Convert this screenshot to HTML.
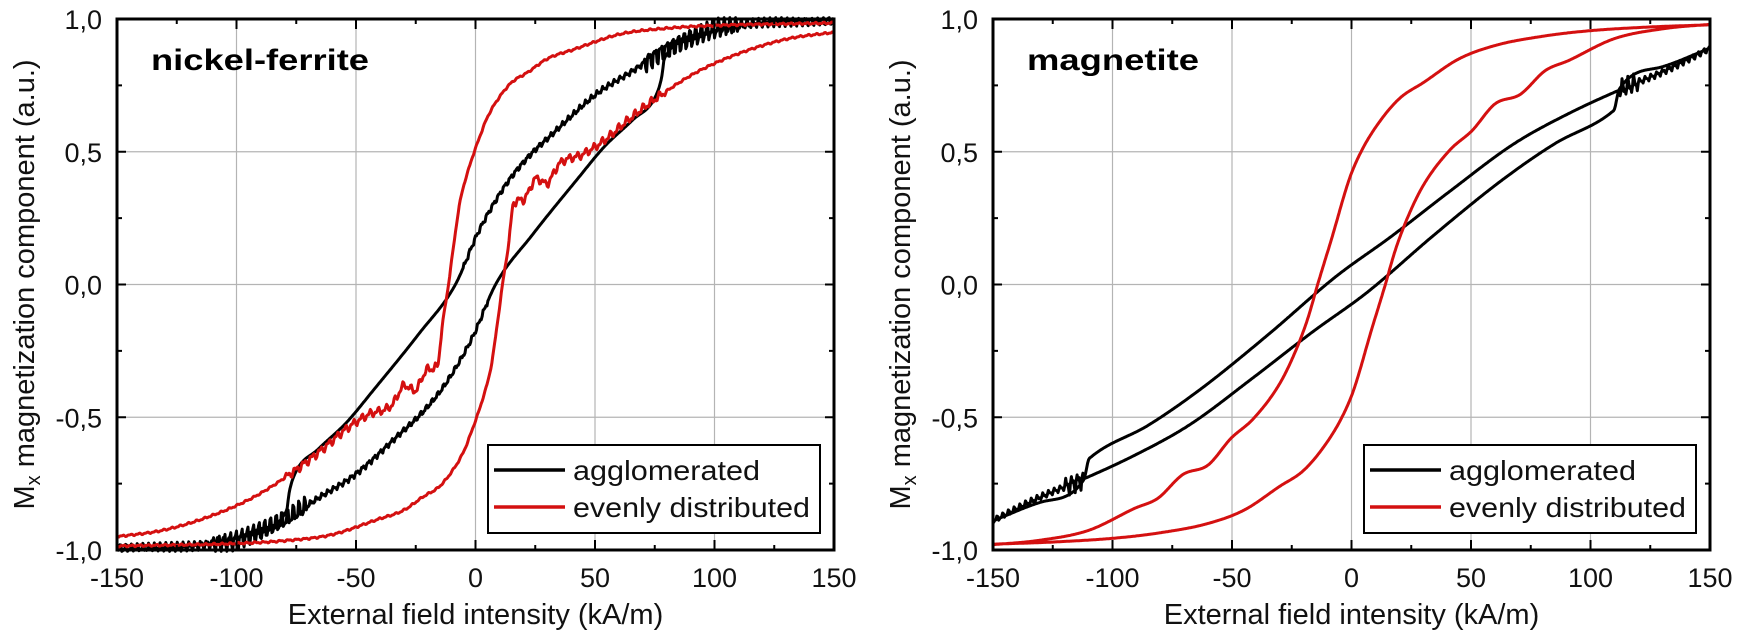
<!DOCTYPE html>
<html><head><meta charset="utf-8"><style>
html,body{margin:0;padding:0;background:#fff;}
svg{display:block;font-family:"Liberation Sans",Arial,sans-serif;}
</style></head><body>
<svg id="s" width="1741" height="642" viewBox="0 0 1741 642" xmlns="http://www.w3.org/2000/svg">
<rect width="1741" height="642" fill="#fff"/>
<g id="g"></g>
</svg>
<script>
const NS="http://www.w3.org/2000/svg";
const G=document.getElementById('g');
function el(t,a,txt){const e=document.createElementNS(NS,t);for(const k in a)e.setAttribute(k,a[k]);if(txt!==undefined)e.textContent=txt;G.appendChild(e);return e;}
function mk(p){ // monotone cubic (Fritsch-Carlson)
  const n=p.length,d=[],m=[];
  for(let i=0;i<n-1;i++)d.push((p[i+1][1]-p[i][1])/(p[i+1][0]-p[i][0]));
  m[0]=d[0];m[n-1]=d[n-2];
  for(let i=1;i<n-1;i++){m[i]=(d[i-1]*d[i]<=0)?0:(d[i-1]+d[i])/2;}
  for(let i=0;i<n-1;i++){if(d[i]===0){m[i]=0;m[i+1]=0;continue;}
    const a=m[i]/d[i],b=m[i+1]/d[i],s=a*a+b*b;if(s>9){const t=3/Math.sqrt(s);m[i]=t*a*d[i];m[i+1]=t*b*d[i];}}
  return function(H){
    if(H<=p[0][0])return p[0][1];if(H>=p[n-1][0])return p[n-1][1];
    let i=0;while(H>p[i+1][0])i++;
    const h=p[i+1][0]-p[i][0],t=(H-p[i][0])/h,t2=t*t,t3=t2*t;
    return (2*t3-3*t2+1)*p[i][1]+(t3-2*t2+t)*h*m[i]+(-2*t3+3*t2)*p[i+1][1]+(t3-t2)*h*m[i+1];
  };
}
function noise(H,seed){return Math.sin(H*2.6+seed)*0.6+Math.sin(H*5.3+seed*2.1)*0.4;}
function plot(x0,label,series){
  const y0=19,W=717,Hh=531;
  const X=h=>x0+(h+150)*W/300, Y=m=>y0+(1-m)*Hh/2;
  for(let h=-100;h<=100;h+=50)el('line',{x1:X(h),x2:X(h),y1:y0,y2:y0+Hh,stroke:'#b4b4b4','stroke-width':1.2});
  for(let m=-0.5;m<=0.5;m+=0.5)el('line',{x1:x0,x2:x0+W,y1:Y(m),y2:Y(m),stroke:'#b4b4b4','stroke-width':1.2});
  for(const s of series){
    const f=mk(s.pts);
    let up=[],lo=[];
    for(let h=150;h>=-150;h-=0.4){up.push([h,f(h)+s.nz(h)]);}
    for(let h=-150;h<=150;h+=0.4){lo.push([h,-f(-h)-s.nz(-h)]);}
    let d='';
    up.forEach((p,i)=>d+=(i?'L':'M')+X(p[0]).toFixed(1)+' '+Y(Math.max(-1.005,Math.min(1.005,p[1]))).toFixed(1));
    lo.forEach((p,i)=>d+=(i?'L':'M')+X(p[0]).toFixed(1)+' '+Y(Math.max(-1.005,Math.min(1.005,p[1]))).toFixed(1));
    el('path',{d:d,fill:'none',stroke:s.c,'stroke-width':3,'stroke-linejoin':'round'});
  }
  for(let h=-150;h<=150;h+=25){const L=(h%50===0)?10:5;
    el('line',{x1:X(h),x2:X(h),y1:y0+Hh,y2:y0+Hh-L,stroke:'#000','stroke-width':2});
    el('line',{x1:X(h),x2:X(h),y1:y0,y2:y0+L,stroke:'#000','stroke-width':2});}
  for(let m=-1;m<=1.001;m+=0.25){const L=(Math.abs(m*2-Math.round(m*2))<0.01)?9:5;
    el('line',{x1:x0,x2:x0+L,y1:Y(m),y2:Y(m),stroke:'#000','stroke-width':2});
    el('line',{x1:x0+W,x2:x0+W-L,y1:Y(m),y2:Y(m),stroke:'#000','stroke-width':2});}
  el('rect',{x:x0,y:y0,width:W,height:Hh,fill:'none',stroke:'#000','stroke-width':3});
  [-150,-100,-50,0,50,100,150].forEach(h=>el('text',{x:X(h),y:587,'font-size':27,'text-anchor':'middle',fill:'#111'},String(h)));
  [[1,'1,0'],[0.5,'0,5'],[0,'0,0'],[-0.5,'-0,5'],[-1,'-1,0']].forEach(a=>el('text',{x:x0-15,y:Y(a[0])+10,'font-size':27,'text-anchor':'end',fill:'#111'},a[1]));
  el('text',{x:X(0),y:624,'font-size':29,'text-anchor':'middle',fill:'#111'},'External field intensity (kA/m)');
  const t=el('text',{transform:`translate(${x0-83},${y0+Hh/2}) rotate(-90)`,'font-size':29,'text-anchor':'middle',fill:'#111'});
  const a=document.createElementNS(NS,'tspan');a.textContent='M';t.appendChild(a);
  const b=document.createElementNS(NS,'tspan');b.textContent='x';b.setAttribute('font-size',20);b.setAttribute('dy',6);t.appendChild(b);
  const c=document.createElementNS(NS,'tspan');c.textContent=' magnetization component (a.u.)';c.setAttribute('dy',-6);t.appendChild(c);
  el('text',{x:x0+34,y:70,'font-size':30,'font-weight':'bold',fill:'#000',textLength:label[1],lengthAdjust:'spacingAndGlyphs'},label[0]);
  const lx=x0+371;
  el('rect',{x:lx,y:445,width:332,height:88,fill:'#fff',stroke:'#000','stroke-width':2});
  el('line',{x1:lx+6,x2:lx+77,y1:470,y2:470,stroke:'#000','stroke-width':3.5});
  el('line',{x1:lx+6,x2:lx+77,y1:507,y2:507,stroke:'#d41010','stroke-width':3.5});
  el('text',{x:lx+85,y:480,'font-size':28,fill:'#111',textLength:187,lengthAdjust:'spacingAndGlyphs'},'agglomerated');
  el('text',{x:lx+85,y:517,'font-size':28,fill:'#111',textLength:237,lengthAdjust:'spacingAndGlyphs'},'evenly distributed');
}
const RED='#d41010';
const nfRed=[[-150,-0.95],[-131,-0.926],[-111.7,-0.875],[-92.6,-0.80],[-77,-0.71],[-64,-0.62],[-54,-0.543],[-44.8,-0.49],[-35,-0.454],[-29.5,-0.38],[-25.6,-0.40],[-20,-0.32],[-16,-0.307],[-14,-0.16],[-11.3,0],[-9.4,0.13],[-6.5,0.31],[-2.7,0.44],[1.1,0.54],[5,0.63],[8.8,0.69],[15,0.76],[22,0.80],[30,0.85],[41,0.885],[60.5,0.943],[80,0.965],[98.7,0.975],[150,0.985]];
const nfBlk=[[-150,-1.0],[-125,-0.99],[-102,-0.96],[-90,-0.92],[-79,-0.85],[-78,-0.786],[-75.4,-0.71],[-65.8,-0.62],[-54,-0.52],[-42.9,-0.40],[-23.7,-0.186],[-8.4,0],[1.1,0.196],[12.6,0.375],[22,0.48],[32,0.566],[51,0.72],[65,0.80],[79.6,0.885],[90,0.93],[100,0.96],[120,0.985],[150,0.995]];
function nfBlkNz(h){
  let a=0;
  if(h>-5){a=0.012; if(h>70&&h<110)a=0.045; if(h>=110)a=0.02;}
  return a*noise(h,1.3);
}
function nfRedNz(h){let a=0.004; if(h<-14&&h>-80)a=0.018; return a*noise(h*0.7,0.4);}
plot(117,['nickel-ferrite',218],[
  {c:'#000',pts:nfBlk,nz:nfBlkNz},
  {c:RED,pts:nfRed,nz:nfRedNz}
]);
const mgRed=[[-150,-0.98],[-131,-0.964],[-110,-0.926],[-90.7,-0.843],[-81,-0.805],[-70.6,-0.716],[-60,-0.68],[-50.5,-0.58],[-41,-0.505],[-29.5,-0.365],[-22,-0.22],[-18,-0.12],[-14,0.005],[-8.4,0.17],[-0.8,0.40],[4,0.50],[10.7,0.60],[20,0.70],[30,0.76],[45,0.85],[60,0.90],[80,0.935],[98.7,0.955],[125,0.97],[150,0.978]];
const mgBlk=[[-150,-0.89],[-130,-0.82],[-112,-0.735],[-110,-0.66],[-109,-0.65],[-85,-0.53],[-64,-0.40],[-35,-0.19],[-6.5,0.03],[16.5,0.18],[41,0.35],[68,0.53],[90,0.64],[114,0.74],[130,0.80],[150,0.89]];
function mgBlkNz(h){let a=0; if(h>=112)a=(h<120?0.04:0.013); return a*noise(h,2.2);}
plot(993,['magnetite',172],[
  {c:'#000',pts:mgBlk,nz:mgBlkNz},
  {c:RED,pts:mgRed,nz:h=>0}
]);
</script>
</body></html>
